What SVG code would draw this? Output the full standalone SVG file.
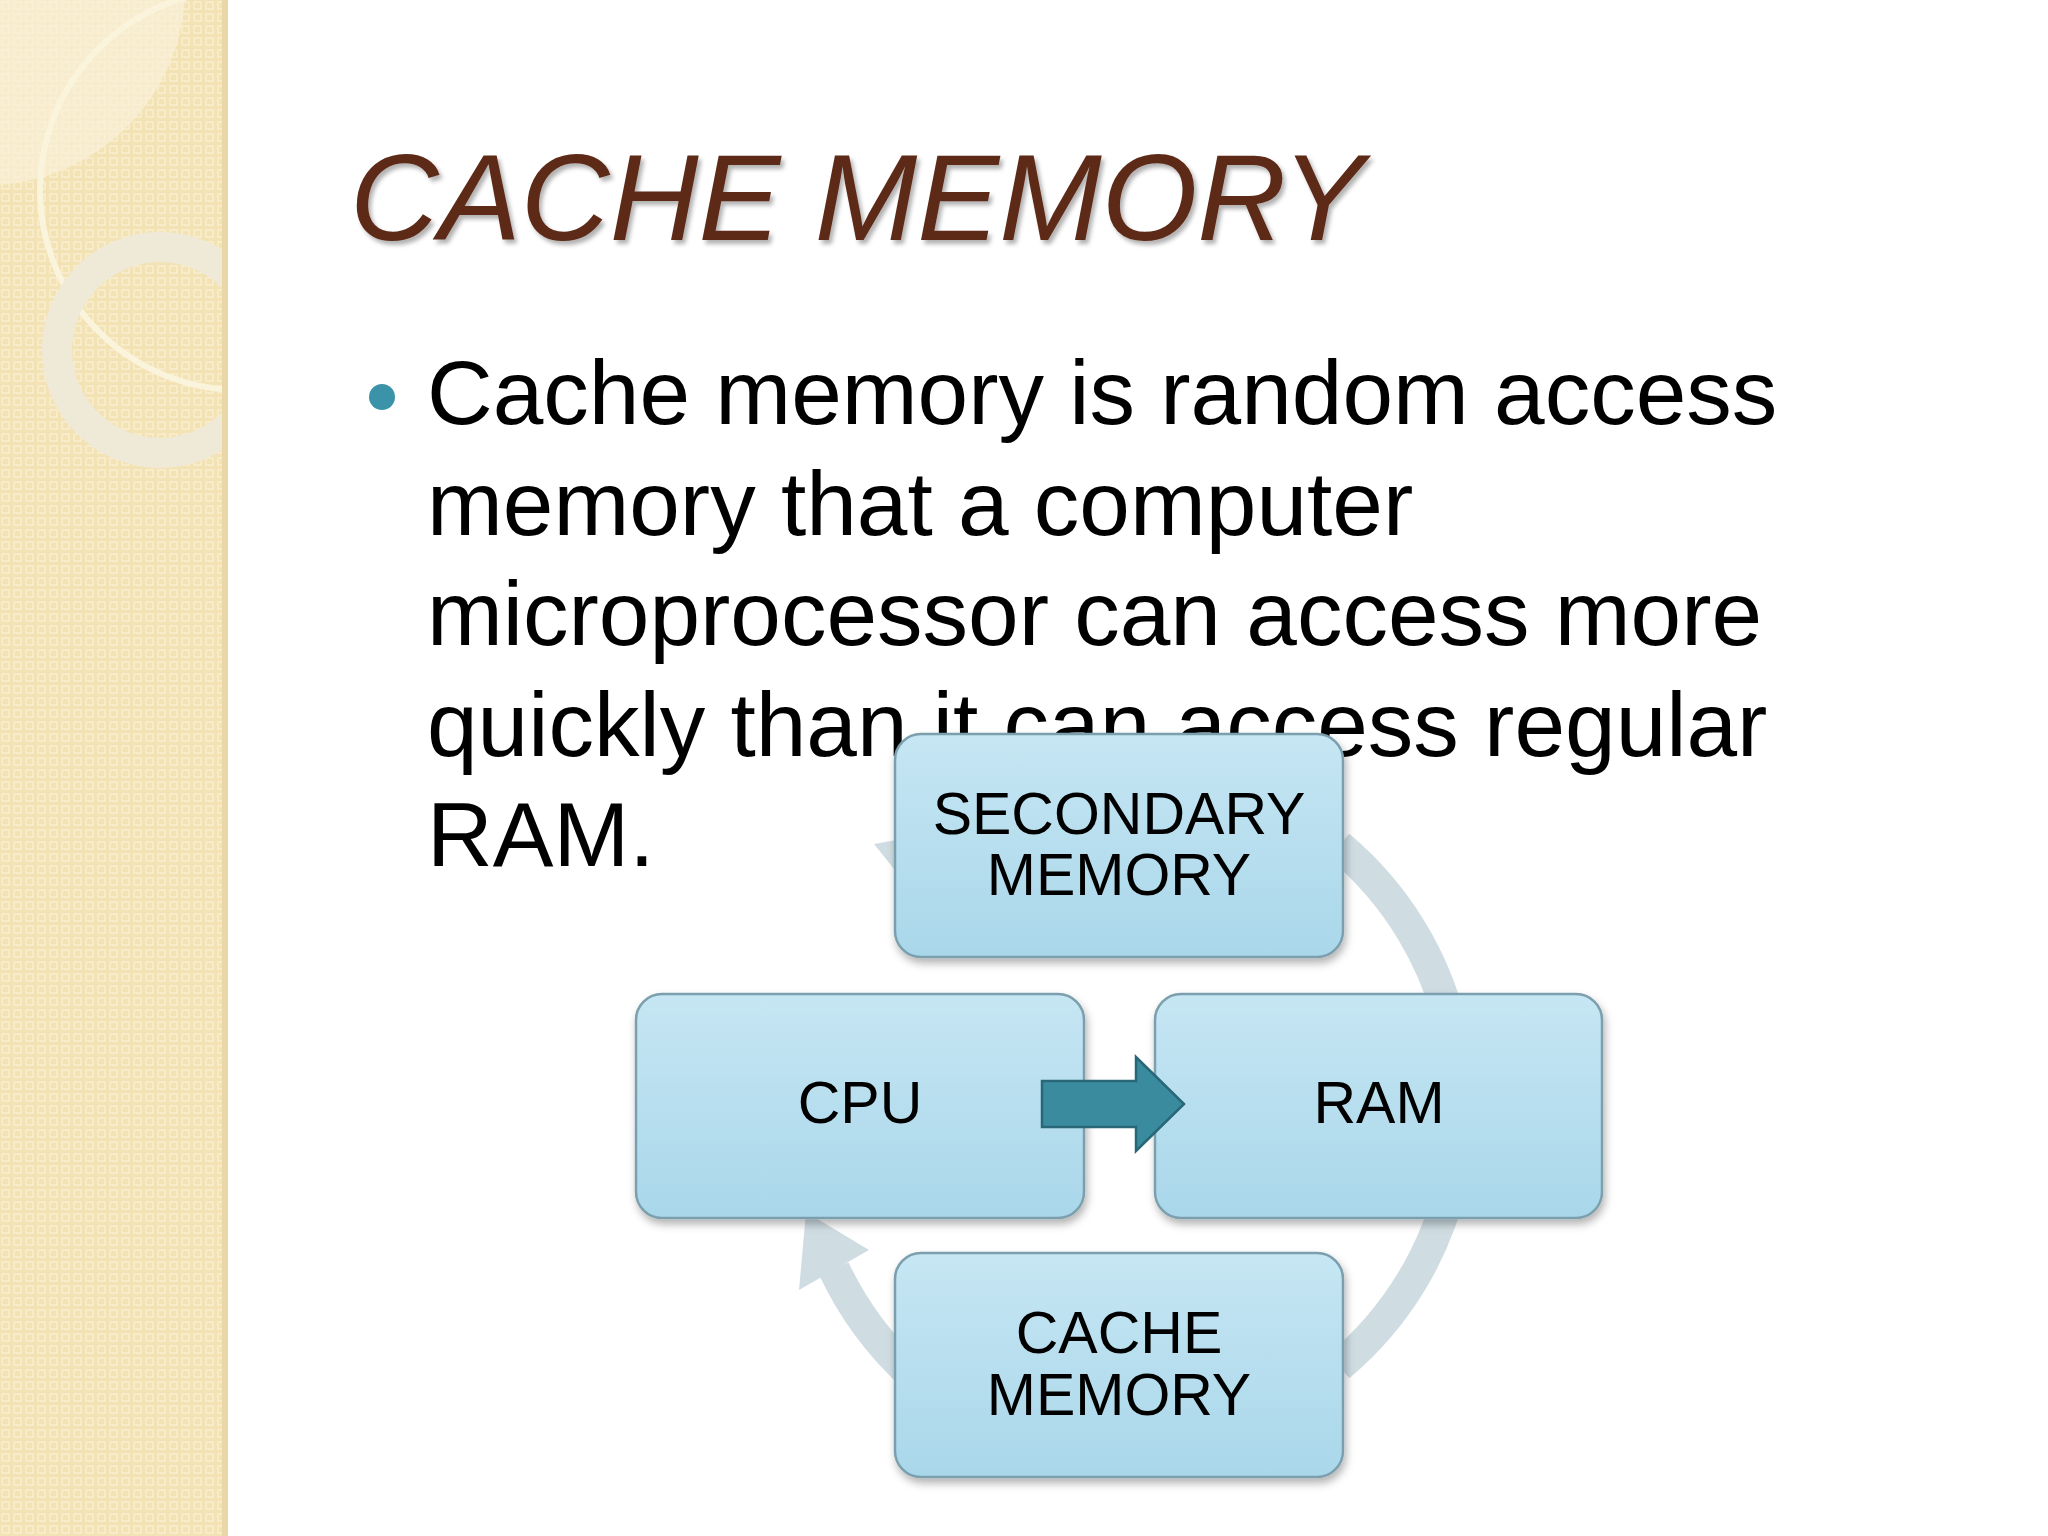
<svg xmlns="http://www.w3.org/2000/svg" width="2048" height="1536" viewBox="0 0 2048 1536">
<defs>
<pattern id="dots" width="12" height="12" patternUnits="userSpaceOnUse">
<rect width="12" height="12" fill="#f3e2b4"/>
<rect x="2" y="2" width="7" height="7" fill="none" stroke="#f9efd2" stroke-width="1.5"/>
</pattern>
<linearGradient id="bx" x1="0" y1="0" x2="0" y2="1">
<stop offset="0" stop-color="#c6e6f3"/><stop offset="1" stop-color="#a9d7ea"/>
</linearGradient>
<filter id="sh" x="-10%" y="-10%" width="120%" height="130%">
<feDropShadow dx="2" dy="5" stdDeviation="4" flood-color="#000" flood-opacity="0.3"/>
</filter>
<filter id="tsh"><feDropShadow dx="3" dy="4" stdDeviation="2" flood-color="#000" flood-opacity="0.3"/></filter>
<clipPath id="pc"><rect width="228" height="1536"/></clipPath>
</defs>
<style>
.box{fill:url(#bx);stroke:#7c9fae;stroke-width:2.5;filter:url(#sh)}
.lbl{font-family:"Liberation Sans",Arial,sans-serif;font-size:59px;fill:#000;text-anchor:middle}
.body{font-family:"Liberation Sans",Arial,sans-serif;font-size:91px;fill:#000}
.arc{fill:none;stroke:#cfdde3;stroke-width:32}
.head{fill:#cfdde3}
</style>
<rect width="2048" height="1536" fill="#fff"/>
<g id="panel" clip-path="url(#pc)">
<rect width="228" height="1536" fill="url(#dots)"/>
<path d="M0,0 H185 A200,200 0 0 1 0,185 Z" fill="#faf1da" opacity="0.7"/>
<circle cx="240" cy="190" r="200" fill="none" stroke="#fbf4dc" stroke-width="6"/>
<circle cx="160" cy="350" r="103" fill="none" stroke="#efe9d8" stroke-width="30"/>
<rect x="222" y="0" width="6" height="1536" fill="#e9d7a8"/>
</g>
<g id="title"><text x="350" y="240" font-family="Liberation Sans,Arial,sans-serif" font-style="italic" font-size="123" fill="#5b2a19" filter="url(#tsh)">CACHE MEMORY</text></g>
<g id="bullet">
<circle cx="382" cy="397" r="13" fill="#3a93a8"/>
<text class="body" x="427" y="424">Cache memory is random access</text>
<text class="body" x="427" y="535">memory that a computer</text>
<text class="body" x="427" y="645">microprocessor can access more</text>
<text class="body" x="427" y="756">quickly than it can access regular</text>
<text class="body" x="427" y="866">RAM.</text>
</g>
<g transform="translate(-6,-6)">
<g id="connectors">
<path class="arc" d="M1345,852 A340,340 0 0 1 1459,1041"/>
<path class="arc" d="M1459,1183 A340,340 0 0 1 1345,1372"/>
<path class="arc" d="M917,1380 A340,340 0 0 1 840,1275"/>
<polygon class="head" points="805,1296 875,1256 812,1218"/>
<polygon class="head" points="880,850 920,900 935,840"/>
</g>
<g id="secondary"><rect class="box" x="901" y="740" width="448" height="223" rx="26"/>
<text class="lbl" x="1125" y="840">SECONDARY</text><text class="lbl" x="1125" y="901">MEMORY</text></g>
<g id="cpu"><rect class="box" x="642" y="1000" width="448" height="224" rx="26"/>
<text class="lbl" x="866" y="1129">CPU</text></g>
<g id="ram"><rect class="box" x="1161" y="1000" width="447" height="224" rx="26"/>
<text class="lbl" x="1385" y="1129">RAM</text></g>
<g id="cache"><rect class="box" x="901" y="1259" width="448" height="224" rx="26"/>
<text class="lbl" x="1125" y="1359">CACHE</text><text class="lbl" x="1125" y="1421">MEMORY</text></g>
<g id="flow"><polygon points="1048,1087 1142,1087 1142,1063 1190,1110 1142,1157 1142,1133 1048,1133" fill="#3a8b9d" stroke="#276777" stroke-width="2.5"/></g>
</g>
</svg>
